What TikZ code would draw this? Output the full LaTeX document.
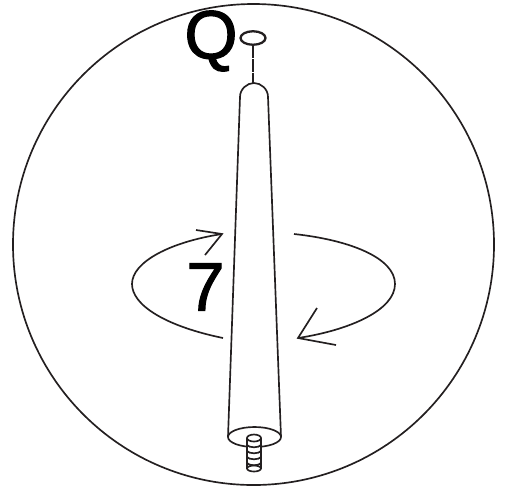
\documentclass[tikz,border=0pt]{standalone}
\usepackage{fontspec}
\setmainfont{Liberation Sans}
\newfontfamily\labelfont{Liberation Sans}[FakeBold=1.5]
\usetikzlibrary{shapes.geometric}
\definecolor{inkline}{RGB}{35, 31, 32}
\tikzset{
  bigletter/.style={font=\labelfont\fontsize{39}{39}\selectfont, inner sep=0pt}
}
\begin{document}
\begin{tikzpicture}[x=0.02cm, y=-0.02cm, line width=0.95pt, draw=inkline]
  \useasboundingbox (0, 0) rectangle (506, 488);

  % outer circle
  \draw (253.5, 244.5) circle [radius=240.5];

  % labels
  \node[bigletter] (labelQ) at (211, 41) {Q};
  \node[bigletter] (label7) at (205.5, 287) {7};

  % the leg
  \draw (228, 437) -- (240, 97) .. controls (240, 89) and (247, 83) .. (254, 83)
    .. controls (261, 83) and (268, 89) .. (268, 97) -- (281, 437);
  \draw (254.5, 437) ellipse [x radius=26.5, y radius=10];

  % the cap and its dashed line
  \coordinate (legtop) at (253, 83);
  \node[ellipse, draw, line width=1.3pt, minimum width=0.5cm, minimum height=0.27cm, inner sep=0pt] (cap) at (253, 38) {};
  \draw[dash pattern=on 7pt off 0.6pt] (cap) -- (legtop);

  % the screw
  \fill[white] (247, 438) rectangle (261, 469);
  \draw (247, 438) -- (247, 469);
  \draw (261, 438) -- (261, 469);
  \draw (254, 438) ellipse [x radius=7, y radius=3.5];
  \foreach \y in {445, 451, 457, 463} {
    \draw (247, \y) .. controls (249, \y+3) and (259, \y+3) .. (261, \y);
  }
  \draw (254, 468.5) ellipse [x radius=7, y radius=3];

  % rotation arrow
  \draw (223, 338) .. controls (165, 326) and (132, 305) .. (132, 284)
    .. controls (132, 262) and (170, 242) .. (222, 234);
  \draw (196, 230) -- (222, 234) -- (205, 255);
  \draw (294, 234) .. controls (350, 240) and (395, 258) .. (395, 284)
    .. controls (395, 310) and (350, 330) .. (298, 338);
  \draw (317, 308) -- (298, 338) -- (336, 345);
\end{tikzpicture}
\end{document}
